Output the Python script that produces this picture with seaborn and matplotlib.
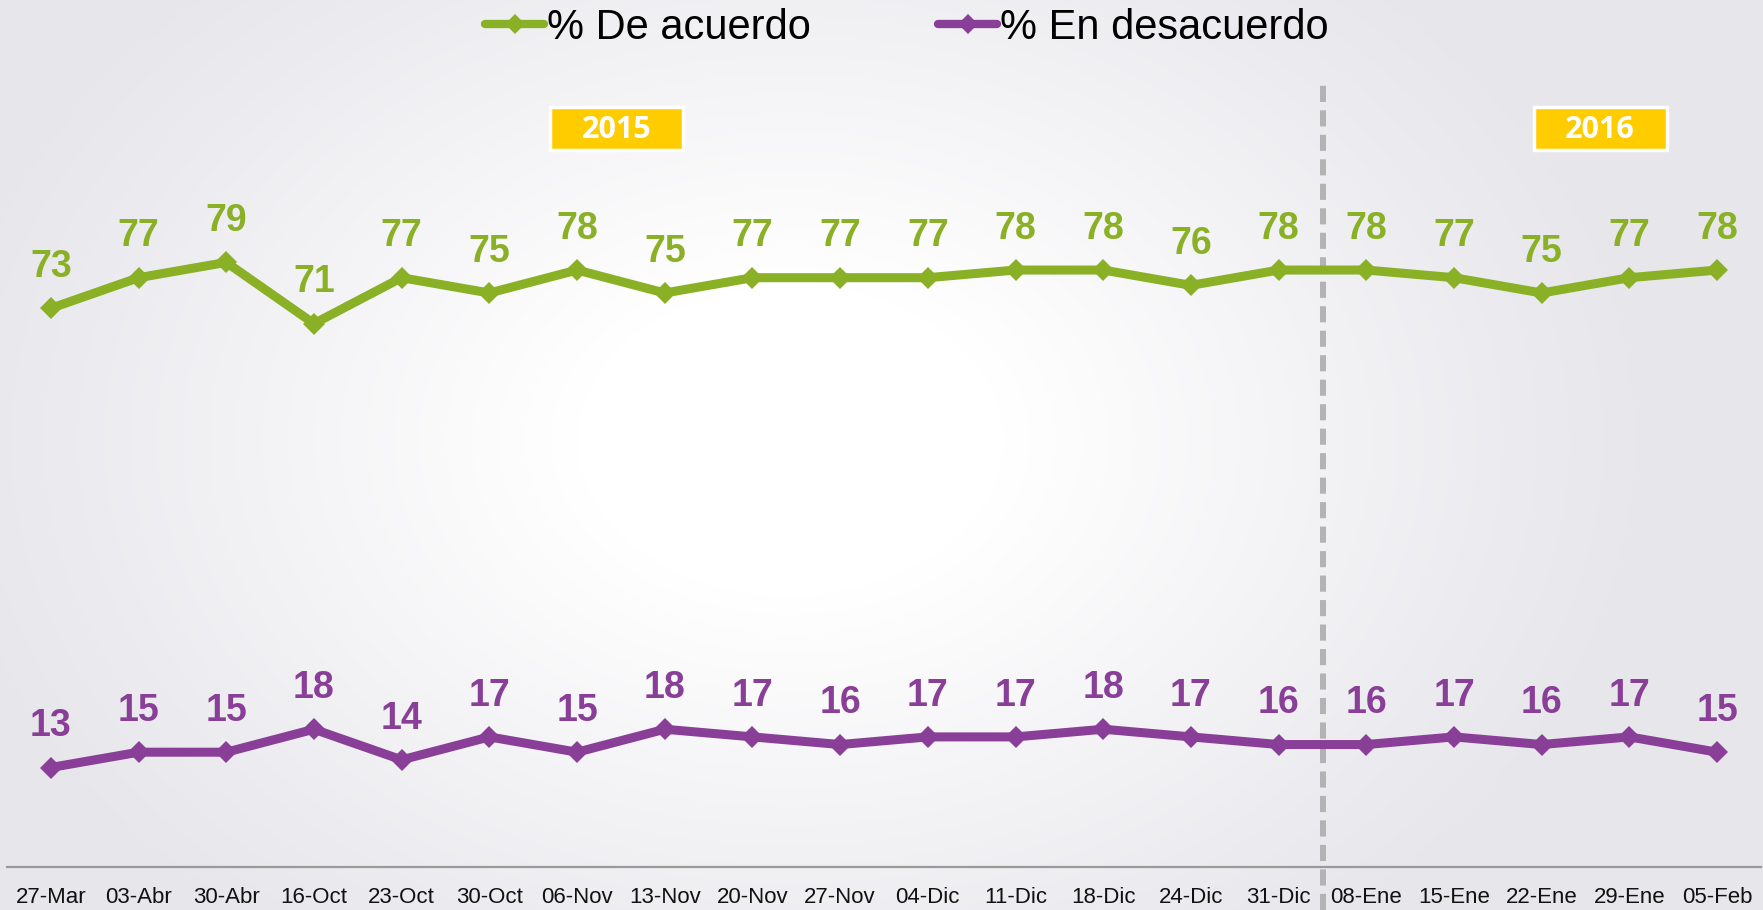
import numpy as np
import pandas as pd
import matplotlib
matplotlib.use("Agg")
import matplotlib.pyplot as plt
import seaborn as sns
from matplotlib.patches import Rectangle
from matplotlib.lines import Line2D

# ---- data ----
fechas = ["27-Mar", "03-Abr", "30-Abr", "16-Oct", "23-Oct", "30-Oct", "06-Nov",
          "13-Nov", "20-Nov", "27-Nov", "04-Dic", "11-Dic", "18-Dic", "24-Dic",
          "31-Dic", "08-Ene", "15-Ene", "22-Ene", "29-Ene", "05-Feb"]
de_acuerdo = [73, 77, 79, 71, 77, 75, 78, 75, 77, 77, 77, 78, 78, 76, 78, 78, 77, 75, 77, 78]
en_desacuerdo = [13, 15, 15, 18, 14, 17, 15, 18, 17, 16, 17, 17, 18, 17, 16, 16, 17, 16, 17, 15]
series_names = ["% De acuerdo", "% En desacuerdo"]
years = ["2015", "2016"]
year_split = 14.5  # between 31-Dic and 08-Ene

GREEN = "#8AB026"
PURPLE = "#893F97"

sns.set_style("white")
plt.rcParams["font.family"] = ["Liberation Sans", "DejaVu Sans"]

W, H = 1763, 910
fig = plt.figure(figsize=(W / 100, H / 100), dpi=100)

# background radial gradient
bg = fig.add_axes([0, 0, 1, 1], zorder=-10)
yy, xx = np.mgrid[0:H, 0:W]
r = np.sqrt(((xx - 790) / 850.0) ** 2 + ((yy - 440) / 620.0) ** 2)
t = np.clip((r - 0.25) / 0.75, 0, 1)
edge = np.array([0.905, 0.905, 0.925])
img = (1 - t[..., None]) * np.array([1.0, 1.0, 1.0]) + t[..., None] * edge
bg.imshow(img, aspect="auto", extent=[0, 1, 0, 1], origin="upper")
bg.axis("off")

ax = fig.add_axes([7 / W, 43 / H, (1761 - 7) / W, 786 / H])
ax.patch.set_alpha(0)

x = np.arange(len(fechas))
df = pd.DataFrame({
    "x": np.concatenate([x, x]),
    "valor": de_acuerdo + en_desacuerdo,
    "serie": [series_names[0]] * len(x) + [series_names[1]] * len(x),
})

sns.lineplot(data=df, x="x", y="valor", hue="serie", palette=[GREEN, PURPLE],
             marker="D", markersize=11.5, markeredgewidth=0, linewidth=6.5,
             ax=ax, legend=False, zorder=3)

for vals, col in [(de_acuerdo, GREEN), (en_desacuerdo, PURPLE)]:
    for i, v in enumerate(vals):
        ax.annotate(str(v), (i, v), xytext=(0, 22.5), textcoords="offset points",
                    ha="center", va="baseline", fontsize=27, fontweight="bold",
                    color=col, zorder=4)

ax.set_xlim(-0.5, len(fechas) - 0.5)
ax.set_ylim(0, 102.7)
ax.set_xlabel("")
ax.set_ylabel("")
ax.set_yticks([])
ax.set_xticks(x)
ax.set_xticklabels(fechas, fontsize=16, color="#111111")
ax.tick_params(axis="x", which="major", length=0, pad=14.5)
ax.set_xticks(np.arange(-0.5, len(fechas), 1.0), minor=True)
ax.tick_params(axis="x", which="minor", length=6, width=1.5, color="#9a9a9a", direction="out")
for s in ["top", "left", "right"]:
    ax.spines[s].set_visible(False)
ax.spines["bottom"].set_color("#9a9a9a")
ax.spines["bottom"].set_linewidth(1.6)

# dashed separator
ax.axvline(year_split, ymin=-0.055, ymax=1.0, color="#b3b3b3", linewidth=4.3,
           dashes=(2.7, 1.4), clip_on=False, zorder=2)

# year boxes
for label, cx in [(years[0], 616.5), (years[1], 1600)]:
    bw, bh = 133, 43
    cy = 128.5
    fig.patches.append(Rectangle(((cx - bw / 2) / W, 1 - (cy + bh / 2) / H), bw / W, bh / H,
                                 transform=fig.transFigure, facecolor="#FFCC00",
                                 edgecolor="white", linewidth=2.5, zorder=5))
    fig.text(cx / W, 1 - (cy + 1) / H, label, ha="center", va="center", color="white",
             fontsize=22, fontweight="bold", family=["Open Sans", "DejaVu Sans"], zorder=6)

# legend
handles = [Line2D([0], [0], color=GREEN, lw=6, marker="D", markersize=10,
                  markeredgewidth=0, solid_capstyle="round"),
           Line2D([0], [0], color=PURPLE, lw=6, marker="D", markersize=10,
                  markeredgewidth=0, solid_capstyle="round")]
fig.legend(handles, series_names, loc="center", bbox_to_anchor=(907 / W, 1 - 28 / H),
           ncol=2, frameon=False, fontsize=30, handlelength=1.42, handletextpad=0.07,
           columnspacing=3.05, borderpad=0, labelcolor="black")

fig.savefig("out.png", dpi=100)
